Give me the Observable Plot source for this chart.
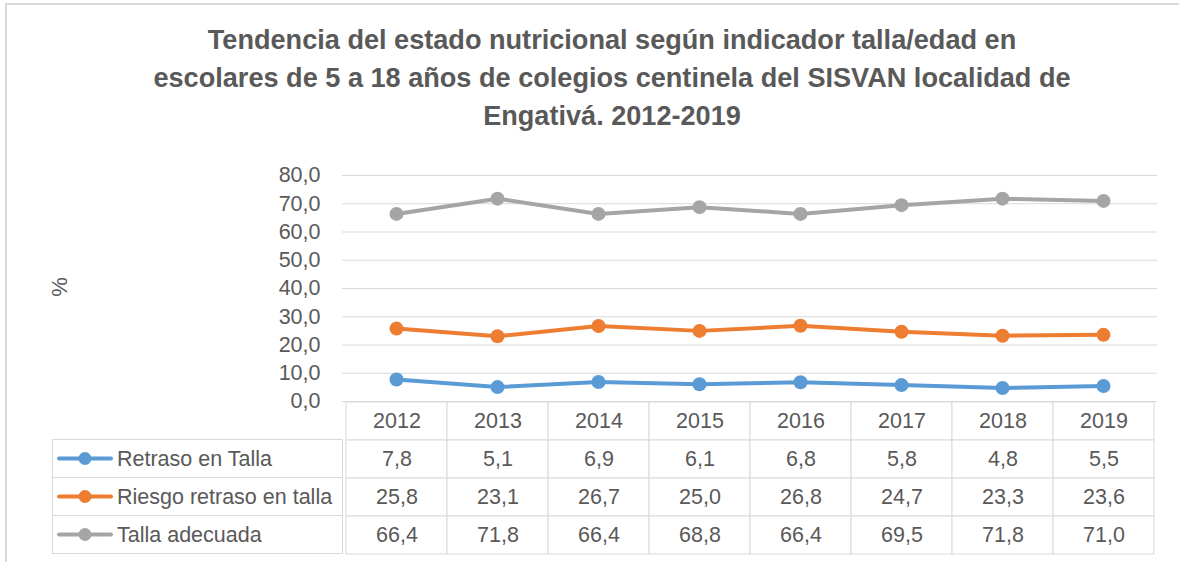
<!DOCTYPE html>
<html>
<head>
<meta charset="utf-8">
<script src="https://cdn.jsdelivr.net/npm/d3@7"></script>
<script src="https://cdn.jsdelivr.net/npm/@observablehq/plot@0.6"></script>
<style>
  html, body { margin: 0; padding: 0; background: #fff; }
  #root { position: relative; width: 1179px; height: 562px; overflow: hidden;
          font-family: "Liberation Sans", Arial, sans-serif; color: #595959; background: #fff; }
  #frame { position: absolute; left: 5px; top: 3px; width: 1300px; height: 700px;
           border-top: 2px solid #d9d9d9; border-left: 2px solid #d9d9d9; }
  #title { position: absolute; left: 0; top: 0; width: 1224px; text-align: center;
           font-weight: bold; color: #595959; }
  #title div { position: absolute; left: 0; width: 100%; white-space: nowrap; }
  .abs { position: absolute; }
  #ylabel { position: absolute; left: 60px; top: 287px; font-size: 22px; color: #595959;
            transform: translate(-50%, -50%) rotate(-90deg); white-space: nowrap; }
</style>
</head>
<body>
<div id="root">
  <div id="frame"></div>
  <div id="title"></div>
  <div id="ylabel">%</div>
</div>
<script>
// ---- data ----
const years = [2012, 2013, 2014, 2015, 2016, 2017, 2018, 2019];
const seriesNames = ["Retraso en Talla", "Riesgo retraso en talla", "Talla adecuada"];
const retrasoTalla = [7.8, 5.1, 6.9, 6.1, 6.8, 5.8, 4.8, 5.5];
const riesgoRetraso = [25.8, 23.1, 26.7, 25.0, 26.8, 24.7, 23.3, 23.6];
const tallaAdecuada = [66.4, 71.8, 66.4, 68.8, 66.4, 69.5, 71.8, 71.0];
const seriesColors = ["#5B9BD5", "#ED7D31", "#A5A5A5"];
const yTicks = [0, 10, 20, 30, 40, 50, 60, 70, 80];
const titleLines = [
  "Tendencia del estado nutricional según indicador talla/edad en",
  "escolares de 5 a 18 años de colegios centinela del SISVAN localidad  de",
  "Engativá. 2012-2019"
];

const FONT = '"Liberation Sans", Arial, sans-serif';
const TEXT = "#595959";
const GRID = "#d9d9d9";
const fmt = d => d.toFixed(1).replace(".", ",");

const values = [retrasoTalla, riesgoRetraso, tallaAdecuada];
const rows = seriesNames.flatMap((s, i) => years.map((y, j) => ({ year: y, series: s, value: values[i][j] })));

const root = document.getElementById("root");

// ---- title (fit line 2 to reference width) ----
const titleEl = document.getElementById("title");
const ctx = document.createElement("canvas").getContext("2d");
ctx.font = `bold 100px ${FONT}`;
const w2 = ctx.measureText(titleLines[1]).width;
const titleSize = 100 * 925 / w2;
const titleCenters = [40, 78, 116];
titleLines.forEach((t, i) => {
  const d = document.createElement("div");
  d.textContent = t;
  d.style.fontSize = titleSize + "px";
  d.style.lineHeight = "38px";
  d.style.top = (titleCenters[i] - 19) + "px";
  titleEl.appendChild(d);
});

// ---- line chart ----
const chart = Plot.plot({
  width: 1179, height: 260,
  marginTop: 25, marginBottom: 9, marginLeft: 342, marginRight: 22,
  x: { type: "point", domain: years, padding: 0.5, axis: null },
  y: { domain: [0, 80], axis: null },
  color: { domain: seriesNames, range: seriesColors },
  style: { fontFamily: FONT, fontSize: "21.5px", color: TEXT, background: "transparent", overflow: "visible" },
  marks: [
    Plot.ruleY(yTicks, { stroke: GRID, strokeWidth: 1 }),
    Plot.axisY({ ticks: yTicks, tickFormat: fmt, tickSize: 0, tickPadding: 22, label: null, fill: TEXT, fontSize: 21.5 }),
    Plot.line(rows, { x: "year", y: "value", z: "series", stroke: "series", strokeWidth: 4, strokeLinejoin: "round", strokeLinecap: "round" }),
    Plot.dot(rows, { x: "year", y: "value", fill: "series", r: 7, stroke: "none" })
  ]
});
const chartWrap = document.createElement("div");
chartWrap.className = "abs";
chartWrap.style.left = "0px";
chartWrap.style.top = "150px";
chartWrap.appendChild(chart);
root.appendChild(chartWrap);

// ---- data table ----
const rowKeys = ["__year", ...seriesNames];
const headerCells = years.map(y => ({ year: y, row: "__year", label: String(y) }));
const valueCells = rows.map(d => ({ year: d.year, row: d.series, label: fmt(d.value) }));
const cells = [...headerCells, ...valueCells];
const tableTop = 401, tableH = 154;
const table = Plot.plot({
  width: 1179, height: tableH,
  marginTop: 0.5, marginBottom: 1.5, marginLeft: 342.5, marginRight: 22.5,
  x: { type: "band", domain: years, padding: 0, axis: null },
  y: { type: "band", domain: rowKeys, padding: 0, axis: null },
  style: { fontFamily: FONT, fontSize: "21.5px", color: TEXT, background: "transparent", overflow: "visible" },
  marks: [
    Plot.cell(cells, { x: "year", y: "row", fill: "white", stroke: GRID, strokeWidth: 1, inset: 0 }),
    Plot.text(cells, { x: "year", y: "row", text: "label", fill: TEXT, fontSize: 21.5 })
  ]
});
const tableWrap = document.createElement("div");
tableWrap.className = "abs";
tableWrap.style.left = "0px";
tableWrap.style.top = tableTop + "px";
tableWrap.appendChild(table);
root.appendChild(tableWrap);

// ---- legend column of the table (d3) ----
const yBand = d3.scaleBand().domain(rowKeys).range([0.5, tableH - 1.5]);
const leg = d3.create("svg").attr("width", 1179).attr("height", tableH)
  .style("position", "absolute").style("left", "0px").style("top", tableTop + "px")
  .style("overflow", "visible");
const lg = leg.selectAll("g").data(seriesNames).join("g")
  .attr("transform", d => `translate(0,${yBand(d)})`);
lg.append("rect").attr("x", 52.5).attr("y", 0).attr("width", 290).attr("height", yBand.bandwidth())
  .attr("fill", "white").attr("stroke", GRID);
lg.append("line").attr("x1", 59).attr("x2", 111).attr("y1", yBand.bandwidth() / 2).attr("y2", yBand.bandwidth() / 2)
  .attr("stroke", (d, i) => seriesColors[i]).attr("stroke-width", 4).attr("stroke-linecap", "round");
lg.append("circle").attr("cx", 85).attr("cy", yBand.bandwidth() / 2).attr("r", 6.5)
  .attr("fill", (d, i) => seriesColors[i]);
lg.append("text").attr("x", 117).attr("y", yBand.bandwidth() / 2).attr("dy", "0.35em")
  .attr("fill", TEXT).style("font-family", FONT).style("font-size", "21.5px").text(d => d);
root.appendChild(leg.node());
</script>
</body>
</html>
